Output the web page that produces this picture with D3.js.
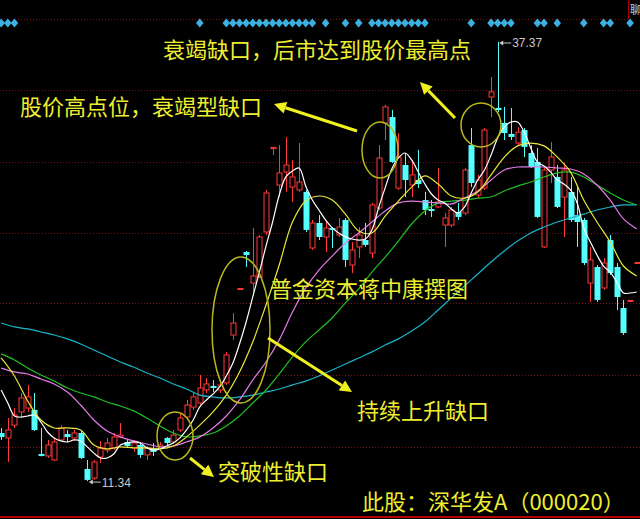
<!DOCTYPE html>
<html><head><meta charset="utf-8">
<script src="https://cdn.jsdelivr.net/npm/d3@7"></script>
<style>html,body{margin:0;padding:0;background:#000;overflow:hidden}</style>
</head><body><svg id="c" width="640" height="519"></svg>
<script>
// ---- data (prices) ----
const open  = [14.19,13.90,14.66,15.44,15.67,15.56,12.95,12.83,12.59,13.78,14.13,13.90,14.19,12.06,11.52,12.77,13.18,13.30,13.95,13.66,13.30,13.48,12.89,13.30,13.30,13.90,13.66,14.37,15.14,15.73,15.97,16.74,16.98,16.74,17.16,20.00,22.70,24.92,23.08,23.44,26.11,31.05,28.89,29.66,28.77,28.60,28.48,25.16,26.64,25.81,26.34,25.93,26.82,24.15,25.22,25.63,24.86,27.53,32.57,32.92,28.71,30.08,28.89,29.19,28.00,27.47,27.59,26.52,26.52,27.29,27.23,31.26,28.30,28.71,34.11,33.46,32.57,31.92,31.38,32.15,30.79,30.26,25.22,29.78,29.37,28.18,28.48,27.11,26.82,23.08,24.03,22.79,25.63,24.03,21.60,21.99,24.24];
const high  = [14.49,15.08,15.67,16.56,17.04,16.56,14.49,13.78,13.90,14.66,14.37,14.37,14.31,12.59,12.59,13.72,13.90,14.19,14.78,13.84,13.78,13.60,13.42,13.60,13.66,13.95,14.37,15.38,16.15,16.62,17.63,17.45,17.33,17.33,19.00,21.30,22.76,24.98,26.34,25.93,28.60,31.15,31.26,31.74,30.38,31.38,28.60,26.82,27.11,26.82,26.40,26.94,26.94,25.51,26.40,26.64,27.83,31.26,33.64,33.34,31.97,30.79,30.38,30.97,28.48,28.00,29.90,27.23,27.59,27.83,29.90,32.27,29.49,32.27,35.30,37.37,33.52,33.46,32.33,32.27,31.26,31.09,29.90,31.44,30.08,30.20,29.37,28.89,26.94,25.22,24.15,24.56,25.93,24.27,22.08,22.05,24.30];
const low   = [13.78,12.47,14.49,15.08,15.44,14.31,12.80,12.71,12.53,13.72,13.66,13.72,12.65,11.34,11.41,12.41,13.01,13.18,13.90,13.30,13.07,12.71,12.59,12.83,13.18,13.42,13.54,14.25,14.96,15.56,15.85,16.56,16.62,16.56,17.04,19.71,22.70,24.03,22.37,23.38,25.93,30.67,28.18,28.48,27.89,28.48,26.11,25.04,25.63,24.92,25.16,25.81,24.03,23.67,24.56,25.22,24.56,27.41,31.56,30.20,28.60,28.18,28.18,28.71,27.11,27.00,27.53,25.22,26.40,26.82,27.11,28.77,28.12,28.60,32.92,33.22,31.56,31.56,31.26,30.55,29.90,26.94,25.16,29.01,27.53,25.81,26.70,25.22,24.15,21.96,21.96,22.67,23.56,21.48,20.00,21.99,24.24];
const close = [13.95,14.37,15.26,16.27,16.33,14.37,12.83,13.48,13.66,14.49,13.95,14.19,12.71,11.41,12.47,13.30,13.60,13.95,14.07,13.42,13.60,12.89,13.30,13.07,13.48,13.60,14.07,15.08,15.85,16.33,16.86,17.10,16.86,17.04,18.82,20.71,22.76,24.74,23.50,25.81,28.42,31.12,29.61,30.08,29.37,29.07,26.23,26.64,25.81,26.34,26.23,26.40,24.45,25.04,25.93,25.34,27.71,30.49,33.52,30.26,30.55,29.19,29.49,28.95,27.41,27.35,27.89,26.94,27.41,27.00,29.78,29.01,29.19,32.15,34.41,33.34,31.97,31.74,32.03,31.15,29.96,27.00,29.78,30.55,27.59,29.78,26.82,26.70,24.27,24.45,22.08,24.27,23.67,22.25,20.12,22.05,24.30];

// moving averages
const ma5 = [16.74,15.97,15.20,15.14,15.20,15.26,14.84,14.25,13.90,13.72,13.66,13.78,13.72,13.37,13.00,12.71,12.71,12.95,13.48,13.60,13.66,13.60,13.31,13.18,13.25,13.42,13.60,13.90,14.37,14.96,15.74,16.15,16.50,16.92,17.57,18.34,19.47,20.77,22.26,23.73,25.27,26.70,28.30,29.37,29.72,29.90,28.83,28.00,27.41,26.82,26.35,26.05,25.82,25.69,25.63,25.69,26.23,27.53,28.72,29.84,30.50,30.79,30.38,29.66,28.95,28.36,28.00,27.83,27.47,27.23,27.59,28.42,29.19,29.78,30.67,31.68,32.34,32.63,32.63,32.03,31.09,30.26,30.02,29.66,29.19,28.95,28.60,27.83,26.35,25.51,24.74,24.09,23.73,23.14,22.49,22.49,22.55];
// slower averages, sampled every second session
const maSampleIdx = [0,2,4,6,8,10,12,14,16,18,20,22,24,26,28,30,32,34,36,38,40,42,44,46,48,50,52,54,56,58,60,62,64,66,68,70,72,74,76,78,80,82,84,86,88,90,92,94,96];
const ma10 = [18.64,17.57,16.09,14.96,14.49,14.49,14.37,13.48,13.25,13.37,13.31,13.31,13.25,13.42,13.96,14.66,15.44,16.44,17.81,19.59,21.78,24.15,26.70,27.94,28.24,28.00,27.17,26.17,26.05,27.05,27.94,28.77,29.43,28.95,28.24,28.12,28.48,29.49,30.55,31.21,31.38,31.21,30.55,29.66,28.00,26.70,25.51,24.09,23.50];
const ma20 = [18.04,17.81,17.69,17.39,17.10,16.62,15.85,14.96,14.31,13.96,13.72,13.54,13.37,13.42,13.66,13.96,14.49,15.20,16.15,17.33,18.40,19.71,21.36,22.79,23.85,24.68,25.45,26.05,26.70,27.35,27.83,27.94,27.89,27.83,27.77,28.12,28.54,29.19,29.78,29.96,29.96,29.96,29.90,29.84,29.55,28.89,28.00,26.88,26.29];
const ma30 = [18.88,18.52,18.04,17.63,17.27,16.86,16.56,16.33,16.03,15.79,15.50,15.08,14.61,14.19,13.96,14.02,14.19,14.61,15.20,15.97,16.74,17.69,18.70,19.59,20.30,21.01,21.90,22.73,23.73,24.62,25.57,26.58,27.35,27.83,27.94,28.00,28.12,28.18,28.54,28.83,29.07,29.37,29.61,29.66,29.37,28.89,28.42,28.00,27.71];
const ma60 = [20.71,20.48,20.36,20.18,20.00,19.77,19.47,19.11,18.76,18.40,18.10,17.75,17.45,17.10,16.80,16.44,16.33,16.27,16.33,16.44,16.62,16.80,17.04,17.27,17.57,17.93,18.28,18.64,19.00,19.41,19.77,20.24,20.77,21.48,22.20,22.91,23.62,24.33,24.98,25.57,26.05,26.40,26.70,26.94,27.17,27.41,27.59,27.71,27.71];

const gridLevels = [34.52,30.26,26.05,21.90,17.63,13.37];
const signalIdx = [0,1,2,30,34,35,36,37,38,39,40,41,42,43,44,45,46,47,49,52,54,56,57,58,59,60,61,62,63,64,71,74,75,76,77,81,82,84,88,91,92,95];
const highLabel = "37.37", lowLabel = "11.34";
const notes = [
  {t:"衰竭缺口，后市达到股价最高点", x:163, y:58},
  {t:"股价高点位，衰竭型缺口", x:20, y:115},
  {t:"普金资本蒋中康撰图", x:270, y:297},
  {t:"持续上升缺口", x:357, y:419},
  {t:"突破性缺口", x:218, y:480},
  {t:"此股：深华发A（000020）", x:362, y:510}
];

// ---- drawing ----
const W=640,H=519;
const svg=d3.select('#c');
svg.append('rect').attr('width',W).attr('height',H).attr('fill','#000');
const x=d3.scaleLinear().domain([0,96]).range([1.2,636.7]);
const y=d3.scaleLinear().domain([10,39]).range([503.7,14.5]);

// grid
svg.append('g').selectAll('line').data(gridLevels).join('line')
  .attr('x1',0).attr('x2',W).attr('y1',d=>Math.round(y(d))+0.5).attr('y2',d=>Math.round(y(d))+0.5)
  .attr('stroke','#7a1010').attr('stroke-width',1).attr('stroke-dasharray','1 2');
svg.append('line').attr('x1',18).attr('x2',628).attr('y1',19.5).attr('y2',19.5)
  .attr('stroke','#7a1010').attr('stroke-dasharray','1 2');
svg.append('line').attr('x1',0).attr('x2',W).attr('y1',517).attr('y2',517)
  .attr('stroke','#b00000').attr('stroke-width',2);
svg.append('line').attr('x1',628.5).attr('x2',628.5).attr('y1',0).attr('y2',19)
  .attr('stroke','#b00000').attr('stroke-width',1);
svg.append('text').attr('x',630).attr('y',14).attr('fill','#cccccc')
  .attr('font-family','Noto Sans CJK SC').attr('font-size',11).text('聊');

// signal diamonds
svg.append('g').selectAll('path').data(signalIdx).join('path')
  .attr('d',i=>{const cx=x(i),cy=23;return `M${cx},${cy-4.5}L${cx+3.8},${cy}L${cx},${cy+4.5}L${cx-3.8},${cy}Z`;})
  .attr('fill','#3cb0e0');

// candles
const idx=d3.range(open.length);
const RED='#ff3838', CYAN='#54ffff', bw=5;
const cg=svg.append('g');
idx.forEach(i=>{
  const o=open[i],c=close[i],h=high[i],l=low[i];
  const cx=Math.round(x(i))+0.5;
  const up=c>=o;
  const top=y(Math.max(o,c)), bot=y(Math.min(o,c));
  const bh=Math.max(1,bot-top);
  if(up){
    if(y(h)<top) cg.append('line').attr('x1',cx).attr('x2',cx).attr('y1',y(h)).attr('y2',top).attr('stroke',RED);
    if(y(l)>top+bh) cg.append('line').attr('x1',cx).attr('x2',cx).attr('y1',top+bh).attr('y2',y(l)).attr('stroke',RED);
    cg.append('rect').attr('x',cx-bw/2).attr('y',top).attr('width',bw).attr('height',bh)
      .attr('fill','#000').attr('stroke',RED).attr('stroke-width',1);
  } else {
    cg.append('line').attr('x1',cx).attr('x2',cx).attr('y1',y(h)).attr('y2',y(l)).attr('stroke',CYAN);
    cg.append('rect').attr('x',cx-bw/2-0.5).attr('y',top).attr('width',bw+1).attr('height',bh).attr('fill',CYAN);
  }
});

// moving averages
const lineGen=d3.line().x(d=>x(d[0])).y(d=>y(d[1])).curve(d3.curveCatmullRom);
const series=[
  {v:ma60,ix:maSampleIdx,c:'#18b4c8'},
  {v:ma30,ix:maSampleIdx,c:'#22c022'},
  {v:ma20,ix:maSampleIdx,c:'#e47ce8'},
  {v:ma10,ix:maSampleIdx,c:'#e8e83a'},
  {v:ma5,ix:idx,c:'#ffffff'}
];
series.forEach(s=>{
  svg.append('path').datum(s.ix.map((k,j)=>[k,s.v[j]])).attr('d',lineGen)
    .attr('fill','none').attr('stroke',s.c).attr('stroke-width',1.2);
});

// high / low labels
const hi=d3.maxIndex(high), lo=d3.minIndex(low);
function priceTag(i,val,txt){
  const px=x(i)+1.5, py=y(val);
  svg.append('line').attr('x1',px+2).attr('x2',px+12).attr('y1',py+1).attr('y2',py+1).attr('stroke','#c8c8c8');
  svg.append('path').attr('d',`M${px},${py+1}L${px+4},${py-1.5}L${px+4},${py+3.5}Z`).attr('fill','#c8c8c8');
  svg.append('text').attr('x',px+13).attr('y',py+5.5).attr('fill','#c8c8c8')
    .attr('font-family','Liberation Sans, Arial').attr('font-size',12).text(txt);
}
priceTag(hi,high[hi],highLabel);
priceTag(lo,low[lo],lowLabel);

// ellipses
const ring='#b8b81c';
[[175,436,18,24],[241,330,29,73],[380,150,18,28],[481,125,20,22]].forEach(e=>{
  svg.append('ellipse').attr('cx',e[0]).attr('cy',e[1]).attr('rx',e[2]).attr('ry',e[3])
    .attr('fill','none').attr('stroke',ring).attr('stroke-width',1.5);
});

// arrows
const AY='#f0f020';
function arrow(x1,y1,x2,y2){
  const a=Math.atan2(y2-y1,x2-x1), L=12, Wd=6;
  const bx=x2-L*Math.cos(a), by=y2-L*Math.sin(a);
  svg.append('line').attr('x1',x1).attr('y1',y1).attr('x2',bx).attr('y2',by).attr('stroke',AY).attr('stroke-width',3);
  const nx=-Math.sin(a)*Wd, ny=Math.cos(a)*Wd;
  svg.append('path').attr('d',`M${x2},${y2}L${bx+nx},${by+ny}L${bx-nx},${by-ny}Z`).attr('fill',AY);
}
arrow(357,131,274,104);
arrow(455,118,420,82);
arrow(268,338,352,392);
arrow(190,458,214,477);

// notes
svg.append('g').selectAll('text').data(notes).join('text')
  .attr('x',d=>d.x).attr('y',d=>d.y).attr('fill','#eeee30')
  .attr('font-family','Noto Sans CJK SC').attr('font-size',22).text(d=>d.t);
</script>
</body></html>
